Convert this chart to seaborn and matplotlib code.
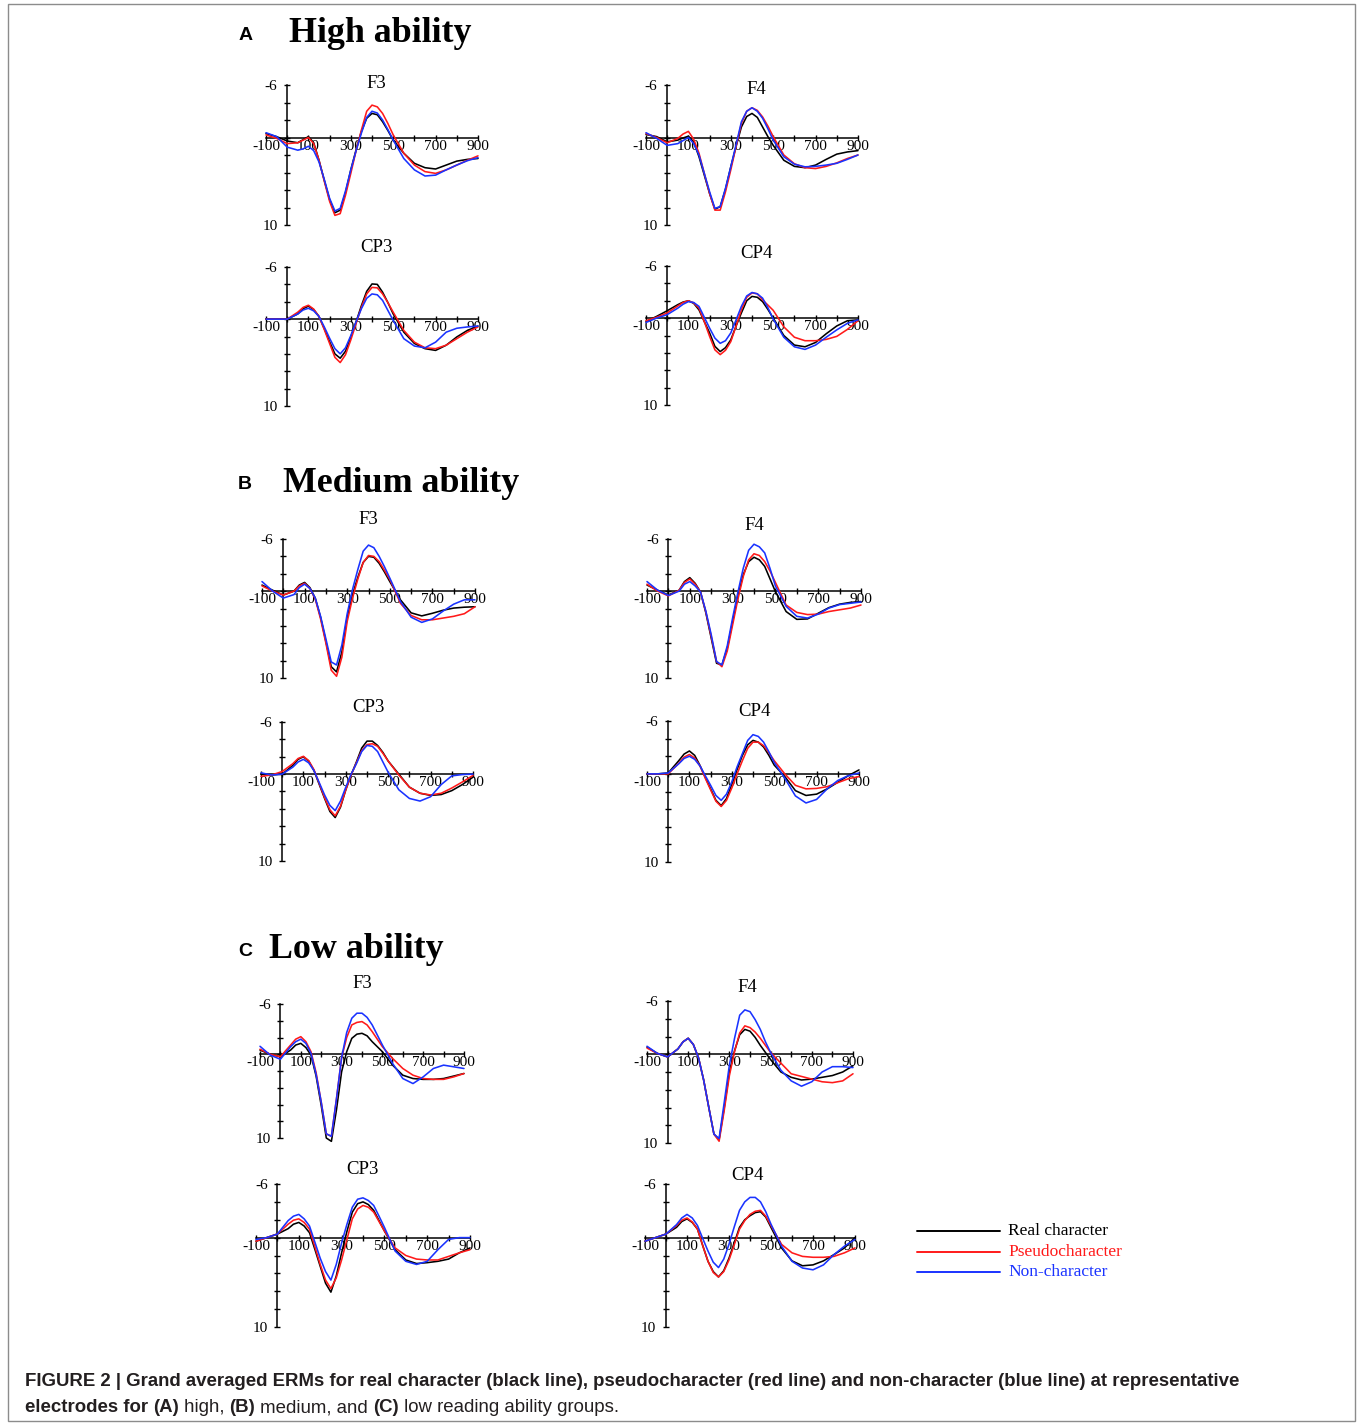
import matplotlib
matplotlib.use("Agg")
import matplotlib.pyplot as plt
from matplotlib.lines import Line2D
from matplotlib.patches import Rectangle
import numpy as np
import pandas as pd
import seaborn as sns

# ---------------------------------------------------------------------------
# Grand-averaged ERM amplitudes (positive plotted downwards), sampled in ms
# ---------------------------------------------------------------------------
times = [-100, -50, 0, 50, 75, 100, 125, 150, 175, 200, 225, 250, 275, 300,
         325, 350, 375, 400, 425, 450, 475, 500, 550, 600, 650, 700, 750,
         800, 850, 900]

conditions = ["Real character", "Pseudocharacter", "Non-character"]
groups = ["High ability", "Medium ability", "Low ability"]
group_letters = ["A", "B", "C"]
electrodes = ["F3", "F4", "CP3", "CP4"]

# High ability
high_f3_real = [-0.45, -0.1, 0.4, 0.6, 0.25, -0.1, 0.6, 2.6, 4.9, 7.1, 8.6, 8.3, 6.3, 3.7, 1.4, -0.7, -2.2, -2.75, -2.6, -1.8, -0.8, 0.3, 1.8, 2.95, 3.45, 3.6, 3.15, 2.7, 2.5, 2.4]
high_f3_pseudo = [-0.3, 0.1, 0.7, 0.6, 0.3, 0.0, 0.7, 2.6, 5.0, 7.3, 8.9, 8.7, 6.6, 4.1, 1.5, -0.85, -3.0, -3.7, -3.5, -2.75, -1.6, -0.3, 1.8, 3.15, 3.9, 4.1, 3.7, 3.15, 2.6, 2.1]
high_f3_non = [-0.55, -0.1, 1.1, 1.45, 1.3, 1.0, 1.5, 2.8, 4.8, 6.95, 8.4, 8.1, 6.1, 3.7, 1.5, -0.5, -2.3, -3.0, -2.8, -2.0, -0.9, 0.3, 2.4, 3.7, 4.4, 4.3, 3.7, 3.15, 2.65, 2.3]

high_f4_real = [-0.35, -0.1, 0.5, 0.3, 0.05, -0.15, 0.5, 2.2, 4.3, 6.4, 8.2, 7.9, 5.9, 3.35, 1.0, -1.2, -2.4, -2.75, -2.3, -1.2, -0.1, 0.9, 2.6, 3.3, 3.45, 3.15, 2.5, 1.9, 1.65, 1.5]
high_f4_pseudo = [-0.45, 0.0, 0.6, 0.1, -0.4, -0.7, 0.2, 1.8, 4.1, 6.4, 8.3, 8.3, 6.2, 3.7, 1.0, -1.6, -3.0, -3.4, -3.1, -2.35, -1.3, -0.1, 2.0, 3.0, 3.45, 3.55, 3.3, 2.9, 2.4, 2.0]
high_f4_non = [-0.55, 0.1, 0.9, 0.7, 0.35, 0.0, 0.7, 2.0, 4.1, 6.2, 8.1, 7.9, 5.8, 3.35, 0.8, -1.8, -3.0, -3.4, -3.0, -2.2, -1.0, 0.3, 2.2, 3.05, 3.35, 3.3, 3.15, 2.95, 2.5, 2.0]

high_cp3_real = [0.0, 0.0, 0.0, -0.6, -1.2, -1.5, -1.1, -0.3, 1.1, 2.6, 4.0, 4.5, 3.7, 2.05, 0.3, -1.55, -3.2, -4.05, -4.0, -3.1, -1.9, -0.6, 1.5, 2.8, 3.4, 3.6, 3.0, 2.05, 1.3, 0.8]
high_cp3_pseudo = [0.0, 0.0, 0.0, -0.8, -1.35, -1.6, -1.15, -0.3, 1.2, 2.8, 4.4, 5.0, 4.1, 2.4, 0.5, -1.35, -2.9, -3.65, -3.6, -2.9, -1.9, -0.8, 1.3, 2.65, 3.3, 3.4, 3.0, 2.25, 1.5, 0.9]
high_cp3_non = [0.0, 0.0, 0.0, -0.6, -1.05, -1.25, -0.95, -0.3, 0.9, 2.2, 3.4, 4.0, 3.3, 1.9, 0.3, -1.2, -2.4, -2.9, -2.8, -2.15, -1.0, 0.15, 2.25, 3.1, 3.3, 2.65, 1.5, 1.05, 0.9, 0.8]

high_cp4_real = [0.4, -0.2, -0.85, -1.55, -1.85, -2.0, -1.7, -0.95, 0.4, 1.7, 3.25, 3.85, 3.4, 2.5, 0.9, -0.6, -2.0, -2.5, -2.4, -1.9, -1.0, 0.0, 2.0, 3.1, 3.3, 2.8, 1.8, 0.9, 0.3, 0.2]
high_cp4_pseudo = [0.3, -0.1, -0.6, -1.4, -1.8, -2.0, -1.75, -1.15, 0.4, 2.1, 3.65, 4.2, 3.7, 2.7, 0.9, -0.95, -2.4, -2.9, -2.8, -2.1, -1.5, -0.9, 1.0, 2.2, 2.6, 2.6, 2.45, 2.1, 1.3, 0.3]
high_cp4_non = [0.5, 0.0, -0.4, -1.15, -1.6, -1.9, -1.8, -1.35, -0.1, 1.15, 2.3, 2.9, 2.6, 1.7, 0.2, -1.35, -2.55, -2.95, -2.8, -2.3, -1.2, 0.1, 2.2, 3.3, 3.6, 3.1, 2.2, 1.35, 0.6, 0.2]

# Medium ability
med_f3_real = [-0.7, -0.1, 0.45, 0.0, -0.7, -1.0, -0.4, 0.8, 3.0, 5.8, 8.7, 9.3, 7.0, 3.0, 0.4, -1.6, -3.3, -4.0, -3.9, -3.2, -2.2, -1.1, 1.0, 2.5, 2.85, 2.55, 2.2, 1.95, 1.85, 1.8]
med_f3_pseudo = [-0.6, 0.0, 0.45, 0.0, -0.6, -0.9, -0.3, 0.9, 3.2, 6.0, 9.1, 9.8, 7.6, 3.5, 0.8, -1.4, -3.3, -4.1, -4.0, -3.4, -2.4, -1.35, 1.4, 2.8, 3.3, 3.3, 3.1, 2.9, 2.6, 1.8]
med_f3_non = [-1.1, 0.0, 0.8, 0.4, -0.4, -0.8, -0.3, 0.8, 2.9, 5.5, 8.15, 8.5, 6.2, 2.6, -0.2, -2.5, -4.6, -5.3, -5.0, -4.0, -2.8, -1.5, 1.2, 3.0, 3.6, 3.2, 2.3, 1.5, 1.0, 1.0]

med_f4_real = [-0.7, -0.1, 0.45, -0.1, -1.1, -1.55, -0.9, 0.1, 2.5, 5.4, 8.3, 8.5, 6.6, 3.5, 0.5, -1.9, -3.4, -3.9, -3.6, -2.85, -1.4, 0.05, 2.35, 3.25, 3.2, 2.55, 1.9, 1.5, 1.3, 1.2]
med_f4_pseudo = [-0.8, 0.0, 0.55, -0.1, -1.0, -1.4, -0.8, 0.1, 2.4, 5.2, 8.1, 8.7, 6.9, 3.9, 0.9, -1.7, -3.6, -4.3, -4.1, -3.4, -2.3, -1.0, 1.6, 2.45, 2.7, 2.65, 2.35, 2.15, 1.95, 1.6]
med_f4_non = [-1.1, -0.1, 0.5, 0.0, -0.8, -1.1, -0.6, 0.1, 2.3, 5.0, 8.1, 8.5, 6.3, 3.1, 0.1, -2.65, -4.7, -5.4, -5.1, -4.4, -2.6, -0.6, 1.75, 2.9, 3.1, 2.65, 1.95, 1.55, 1.4, 1.25]

med_cp3_real = [0.0, 0.1, 0.0, -1.0, -1.7, -2.0, -1.5, -0.4, 1.2, 2.8, 4.3, 5.0, 3.8, 1.8, 0.1, -1.4, -3.0, -3.8, -3.8, -3.3, -2.5, -1.5, 0.0, 1.5, 2.2, 2.45, 2.35, 1.9, 1.2, 0.35]
med_cp3_pseudo = [0.25, 0.1, -0.3, -1.2, -1.8, -2.05, -1.55, -0.5, 1.1, 2.7, 4.1, 4.8, 3.7, 1.8, 0.1, -1.3, -2.7, -3.4, -3.5, -3.2, -2.4, -1.5, 0.1, 1.5, 2.2, 2.4, 2.2, 1.6, 0.9, 0.15]
med_cp3_non = [-0.15, 0.1, 0.0, -0.8, -1.4, -1.7, -1.3, -0.4, 1.0, 2.4, 3.6, 4.2, 3.1, 1.5, 0.0, -1.2, -2.6, -3.3, -3.2, -2.6, -1.4, -0.2, 1.8, 2.8, 3.1, 2.6, 1.2, 0.2, 0.05, 0.0]

med_cp4_real = [0.0, 0.0, -0.1, -1.5, -2.25, -2.6, -2.1, -0.95, 0.4, 1.7, 3.0, 3.6, 2.8, 1.2, -0.5, -2.1, -3.3, -3.8, -3.6, -3.05, -2.1, -1.0, 0.3, 1.9, 2.45, 2.3, 1.7, 0.95, 0.2, -0.45]
med_cp4_pseudo = [0.0, 0.0, 0.0, -1.2, -1.9, -2.2, -1.8, -0.9, 0.5, 1.8, 3.1, 3.7, 3.0, 1.6, 0.0, -1.5, -2.9, -3.6, -3.6, -3.2, -2.4, -1.5, 0.0, 1.3, 1.7, 1.65, 1.45, 1.0, 0.55, 0.3]
med_cp4_non = [0.0, 0.0, -0.1, -1.15, -1.75, -2.0, -1.65, -0.9, 0.2, 1.3, 2.45, 3.0, 2.3, 0.9, -0.8, -2.3, -3.8, -4.45, -4.25, -3.6, -2.5, -1.3, 0.5, 2.5, 3.3, 2.9, 1.7, 0.75, 0.2, -0.1]

# Low ability
low_f3_real = [-0.5, 0.0, 0.3, -0.5, -1.1, -1.3, -0.8, 0.1, 2.6, 6.1, 10.0, 10.4, 6.6, 2.1, -0.3, -1.9, -2.4, -2.5, -2.2, -1.5, -0.9, -0.3, 1.3, 2.5, 2.9, 3.0, 3.0, 2.9, 2.6, 2.3]
low_f3_pseudo = [-0.6, 0.0, 0.3, -1.1, -1.8, -2.1, -1.5, -0.3, 2.2, 5.7, 9.5, 9.8, 5.3, 0.4, -2.0, -3.5, -3.8, -3.9, -3.5, -2.7, -1.8, -0.9, 0.5, 1.7, 2.5, 2.9, 3.0, 3.0, 2.7, 2.3]
low_f3_non = [-0.95, 0.1, 0.6, -0.9, -1.5, -1.8, -1.3, -0.1, 2.4, 5.7, 9.5, 9.8, 5.3, 0.4, -2.6, -4.3, -4.9, -4.9, -4.4, -3.5, -2.3, -1.1, 1.1, 2.9, 3.5, 2.7, 1.7, 1.3, 1.5, 1.7]

low_f4_real = [-0.8, -0.1, 0.3, -0.6, -1.4, -1.8, -1.1, 0.4, 2.9, 6.0, 9.0, 9.6, 6.0, 2.0, -0.4, -2.2, -2.8, -2.6, -1.9, -1.0, -0.2, 0.6, 2.0, 2.6, 2.9, 2.8, 2.6, 2.4, 2.0, 1.3]
low_f4_pseudo = [-0.7, -0.1, 0.3, -0.6, -1.4, -1.8, -1.1, 0.4, 2.9, 6.0, 9.0, 9.8, 6.3, 2.4, -0.3, -2.4, -3.2, -3.0, -2.5, -1.8, -1.0, -0.2, 1.0, 2.2, 2.5, 2.8, 3.1, 3.2, 3.0, 2.2]
low_f4_non = [-0.9, -0.1, 0.3, -0.6, -1.4, -1.8, -1.1, 0.4, 2.9, 6.0, 9.0, 9.5, 5.4, 1.2, -1.8, -4.4, -5.0, -4.8, -3.9, -2.8, -1.4, -0.2, 1.8, 3.0, 3.6, 3.1, 2.0, 1.4, 1.4, 1.5]

low_cp3_real = [0.4, 0.0, -0.4, -1.0, -1.5, -1.7, -1.3, -0.55, 1.3, 3.2, 5.1, 6.1, 4.3, 1.7, -0.7, -2.85, -3.8, -4.0, -3.7, -3.05, -1.9, -0.75, 1.35, 2.5, 2.9, 2.8, 2.65, 2.4, 1.7, 1.15]
low_cp3_pseudo = [0.4, 0.0, -0.4, -1.5, -1.95, -2.1, -1.7, -0.95, 1.0, 3.0, 4.75, 5.7, 4.5, 2.5, 0.2, -2.1, -3.2, -3.6, -3.4, -2.85, -1.8, -0.75, 1.15, 2.0, 2.4, 2.5, 2.5, 2.1, 1.7, 1.35]
low_cp3_non = [0.2, 0.0, -0.4, -1.9, -2.4, -2.6, -2.1, -1.3, 0.5, 2.3, 3.8, 4.75, 3.0, 0.6, -1.5, -3.4, -4.3, -4.45, -4.15, -3.6, -2.4, -1.15, 1.5, 2.65, 3.0, 2.65, 1.35, 0.2, 0.0, 0.0]

low_cp4_real = [0.4, 0.0, -0.4, -1.15, -1.8, -2.1, -1.7, -0.95, 0.9, 2.65, 3.8, 4.4, 3.7, 2.3, 0.6, -1.15, -2.0, -2.45, -2.8, -2.9, -2.3, -1.15, 1.15, 2.6, 3.15, 3.05, 2.6, 1.9, 1.15, 0.0]
low_cp4_pseudo = [0.4, 0.0, -0.4, -1.35, -1.95, -2.2, -1.75, -0.95, 0.9, 2.65, 3.9, 4.4, 3.8, 2.5, 0.8, -0.95, -1.9, -2.6, -2.95, -3.05, -2.4, -1.35, 0.75, 1.7, 2.1, 2.2, 2.2, 2.1, 1.7, 1.15]
low_cp4_non = [0.4, 0.0, -0.4, -1.45, -2.2, -2.6, -2.2, -1.35, 0.1, 1.5, 2.75, 3.35, 2.4, 0.75, -1.2, -3.05, -4.0, -4.5, -4.5, -4.0, -2.9, -1.5, 0.95, 2.65, 3.4, 3.6, 3.05, 1.9, 0.95, 0.2]

waves = {
    ("High ability", "F3"): (high_f3_real, high_f3_pseudo, high_f3_non),
    ("High ability", "F4"): (high_f4_real, high_f4_pseudo, high_f4_non),
    ("High ability", "CP3"): (high_cp3_real, high_cp3_pseudo, high_cp3_non),
    ("High ability", "CP4"): (high_cp4_real, high_cp4_pseudo, high_cp4_non),
    ("Medium ability", "F3"): (med_f3_real, med_f3_pseudo, med_f3_non),
    ("Medium ability", "F4"): (med_f4_real, med_f4_pseudo, med_f4_non),
    ("Medium ability", "CP3"): (med_cp3_real, med_cp3_pseudo, med_cp3_non),
    ("Medium ability", "CP4"): (med_cp4_real, med_cp4_pseudo, med_cp4_non),
    ("Low ability", "F3"): (low_f3_real, low_f3_pseudo, low_f3_non),
    ("Low ability", "F4"): (low_f4_real, low_f4_pseudo, low_f4_non),
    ("Low ability", "CP3"): (low_cp3_real, low_cp3_pseudo, low_cp3_non),
    ("Low ability", "CP4"): (low_cp4_real, low_cp4_pseudo, low_cp4_non),
}

rows = []
for (grp, elec), series in waves.items():
    for cond, vals in zip(conditions, series):
        assert len(vals) == len(times), (grp, elec, cond, len(vals))
        for t, v in zip(times, vals):
            rows.append({"group": grp, "electrode": elec, "condition": cond,
                         "time": t, "amplitude": v})
df = pd.DataFrame(rows)

# ---------------------------------------------------------------------------
# Figure layout (pixel geometry of a 1357 x 1425 canvas)
# ---------------------------------------------------------------------------
W, H = 1357, 1425
sns.set_theme(style="white")
plt.rcParams["font.family"] = ["Liberation Serif", "DejaVu Serif"]
plt.rcParams["axes.unicode_minus"] = False

palette = {"Real character": "#000000",
           "Pseudocharacter": "#ff1a1a",
           "Non-character": "#1a33ff"}

fig = plt.figure(figsize=(W / 100, H / 100), dpi=100)
fig.patch.set_facecolor("white")

# (left, right, top, bottom) of each panel's data area in pixels
boxes = {
    ("High ability", "F3"): (266, 478, 85, 225),
    ("High ability", "F4"): (646, 858, 85, 225),
    ("High ability", "CP3"): (266, 478, 267, 406),
    ("High ability", "CP4"): (646, 858, 266, 405),
    ("Medium ability", "F3"): (262, 475, 539, 678),
    ("Medium ability", "F4"): (647, 861, 539, 678),
    ("Medium ability", "CP3"): (261, 473, 722, 861),
    ("Medium ability", "CP4"): (647, 859, 721, 862),
    ("Low ability", "F3"): (260, 464, 1004, 1138),
    ("Low ability", "F4"): (647, 853, 1001, 1143),
    ("Low ability", "CP3"): (256, 470, 1184, 1327),
    ("Low ability", "CP4"): (645, 855, 1184, 1327),
}
title_pos = {
    ("High ability", "F3"): (376, 84), ("High ability", "F4"): (756, 89),
    ("High ability", "CP3"): (376, 248), ("High ability", "CP4"): (756, 253),
    ("Medium ability", "F3"): (368, 520), ("Medium ability", "F4"): (754, 525),
    ("Medium ability", "CP3"): (368, 707), ("Medium ability", "CP4"): (754, 712),
    ("Low ability", "F3"): (362, 983), ("Low ability", "F4"): (747, 988),
    ("Low ability", "CP3"): (362, 1170), ("Low ability", "CP4"): (747, 1175),
}
header_pos = {"High ability": (246, 289, 34),
              "Medium ability": (245, 283, 483),
              "Low ability": (245, 269, 950)}


def fx(px):
    return px / W


def fy(py):
    return 1 - py / H


xticks = list(range(-100, 901, 100))
xlabels = [str(v) if v % 200 == 100 else "" for v in xticks]
yticks = list(range(-6, 11, 2))
ylabels = [str(v) if v in (-6, 10) else "" for v in yticks]

for (grp, elec), (l, r, t, b) in boxes.items():
    ax = fig.add_axes([fx(l), fy(b), (r - l) / W, (b - t) / H])
    sub = df[(df.group == grp) & (df.electrode == elec)]
    sns.lineplot(data=sub, x="time", y="amplitude", hue="condition",
                 hue_order=conditions, palette=palette, estimator=None,
                 legend=False, linewidth=1.15, ax=ax)
    for ln in ax.lines:
        ln.set_clip_on(False)
        ln.set_solid_joinstyle("round")
    ax.set_xlim(-100, 900)
    ax.set_ylim(10, -6)
    ax.patch.set_visible(False)
    ax.set_xlabel("")
    ax.set_ylabel("")
    ax.grid(False)
    for s in ("top", "right"):
        ax.spines[s].set_visible(False)
    ax.spines["left"].set_position(("data", 0))
    ax.spines["bottom"].set_position(("data", 0))
    for s in ("left", "bottom"):
        ax.spines[s].set_linewidth(1.1)
        ax.spines[s].set_color("black")
        ax.spines[s].set_zorder(1)
    ax.set_xticks(xticks)
    ax.set_xticklabels(xlabels)
    ax.set_yticks(yticks)
    ax.set_yticklabels(ylabels)
    ax.tick_params(axis="both", which="major", bottom=True, left=True,
                   top=False, right=False, direction="inout", length=5,
                   width=1.0, color="black", labelsize=11, labelcolor="black")
    ax.tick_params(axis="x", pad=-1)
    ax.tick_params(axis="y", pad=4.5)
    tx, ty = title_pos[(grp, elec)]
    fig.text(fx(tx), fy(ty), elec, ha="center", va="center", fontsize=13.5,
             color="black")

for grp, letter in zip(groups, group_letters):
    lx, nx, hy = header_pos[grp]
    fig.text(fx(lx), fy(hy + 2), letter, ha="center", va="center",
             fontsize=14, fontweight="bold", family="Liberation Sans",
             color="black")
    fig.text(fx(nx), fy(hy), grp, ha="left", va="center", fontsize=25.8,
             fontweight="bold", color="black")

# legend
for i, cond in enumerate(conditions):
    yy = 1231 + i * 20.5
    fig.add_artist(Line2D([fx(917), fx(1000)], [fy(yy), fy(yy)],
                          transform=fig.transFigure, color=palette[cond],
                          linewidth=1.4))
    fig.text(fx(1008), fy(yy), cond, ha="left", va="center", fontsize=12.5,
             color=palette[cond])

# frame around the figure
fig.add_artist(Rectangle((fx(8), fy(1421)), (1355 - 8) / W, (1421 - 4) / H,
                         transform=fig.transFigure, fill=False,
                         edgecolor="#8c8c8c", linewidth=1.0))

# caption with mixed weights
renderer = fig.canvas.get_renderer()
cap_color = "#231f20"


def caption_line(x_px, y_px, runs, size=13.45):
    x = x_px
    for txt, weight in runs:
        t = fig.text(fx(x), fy(y_px), txt, ha="left", va="center",
                     fontsize=size, fontweight=weight,
                     family="Liberation Sans", color=cap_color)
        x += t.get_window_extent(renderer).width


caption_line(25, 1382, [("FIGURE 2 | Grand averaged ERMs for real character (black line), "
                         "pseudocharacter (red line) and non-character (blue line) at representative",
                         "bold")])
caption_line(25, 1408, [("electrodes for ", "bold"), ("(A)", "bold"), (" high, ", "normal"),
                        ("(B)", "bold"), (" medium, and ", "normal"), ("(C)", "bold"),
                        (" low reading ability groups.", "normal")])

fig.savefig("out.png", dpi=100, facecolor="white")
